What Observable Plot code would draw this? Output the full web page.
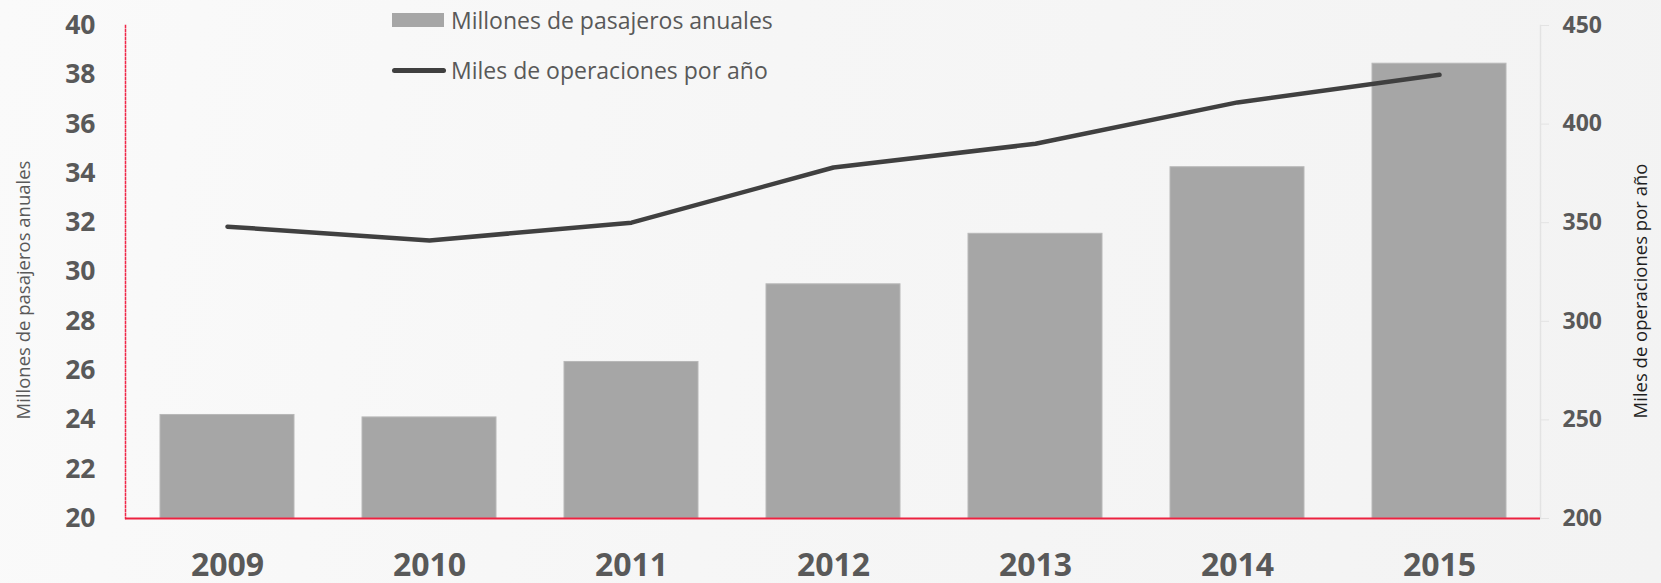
<!DOCTYPE html>
<html>
<head>
<meta charset="utf-8">
<script src="https://cdn.jsdelivr.net/npm/d3@7"></script>
<script src="https://cdn.jsdelivr.net/npm/@observablehq/plot@0.6"></script>
<style>
  html, body { margin: 0; padding: 0; }
  body { width: 1661px; height: 583px; overflow: hidden; font-family: "Open Sans", sans-serif; }
  #wrap { position: relative; width: 1661px; height: 583px;
    background: linear-gradient(100deg, #fafafa 0%, #f6f6f6 45%, #f3f3f3 100%); }
  #chart svg { display: block; background: transparent; }
  .leg { position: absolute; left: 392px; font-size: 23px; color: #595959; display: flex; align-items: center; white-space: nowrap; }
  .sw-bar { width: 52px; height: 14px; background: #a6a6a6; margin-right: 7px; }
  .sw-line { width: 54px; height: 5px; border-radius: 3px; background: #404040; margin-right: 5px; }
  .ytitle { position: absolute; font-size: 18.5px; white-space: nowrap; transform: translate(-50%, -50%) rotate(-90deg); }
</style>
</head>
<body>
<div id="wrap">
  <div id="chart"></div>
  <div class="leg" style="top:4px;"><div class="sw-bar"></div><span>Millones de pasajeros anuales</span></div>
  <div class="leg" style="top:54px;"><div class="sw-line"></div><span>Miles de operaciones por año</span></div>
  <div class="ytitle" style="left:22px; top:290px; color:#595959;">Millones de pasajeros anuales</div>
  <div class="ytitle" style="left:1639px; top:291px; color:#1f1f1f;">Miles de operaciones por año</div>
</div>
<script>
// Data
const years = ["2009", "2010", "2011", "2012", "2013", "2014", "2015"];
const passengers = [24.2, 24.1, 26.35, 29.5, 31.55, 34.25, 38.45]; // millones
const operations = [348, 341, 350, 378, 390, 411, 425];             // miles
const leftTicks = [20, 22, 24, 26, 28, 30, 32, 34, 36, 38, 40];
const rightTicks = [200, 250, 300, 350, 400, 450];
const leftDomain = [20, 40];
const rightDomain = [200, 450];

const rows = years.map((y, i) => ({year: y, pax: passengers[i], ops: operations[i]}));

// map secondary (right) axis values onto the primary y scale
const toLeft = v => leftDomain[0] + (v - rightDomain[0]) / (rightDomain[1] - rightDomain[0]) * (leftDomain[1] - leftDomain[0]);
const fromLeft = v => Math.round(rightDomain[0] + (v - leftDomain[0]) / (leftDomain[1] - leftDomain[0]) * (rightDomain[1] - rightDomain[0]));

const tickColor = "#595959";

const chart = Plot.plot({
  width: 1661,
  height: 583,
  marginLeft: 125,
  marginRight: 121,
  marginTop: 25,
  marginBottom: 65,
  style: {fontFamily: "'Open Sans', sans-serif", background: "transparent", overflow: "visible"},
  x: {type: "band", domain: years, paddingInner: 0.337, paddingOuter: 0.1685},
  y: {domain: leftDomain},
  marks: [
    Plot.barY(rows, {x: "year", y1: leftDomain[0], y2: "pax", fill: "#a6a6a6", stroke: "#b8b8b8", strokeWidth: 1}),
    Plot.frame({anchor: "left", stroke: "#f0284a", strokeDasharray: "2,2", strokeWidth: 1.5}),
    Plot.frame({anchor: "right", stroke: "#e3e3e3", strokeWidth: 1.5}),
    Plot.ruleY([leftDomain[0]], {stroke: "#ec2240", strokeWidth: 2}),
    Plot.line(rows, {x: "year", y: d => toLeft(d.ops), stroke: "#404040", strokeWidth: 4.5, strokeLinecap: "round", strokeLinejoin: "round"}),
    Plot.axisY(leftTicks, {anchor: "left", tickSize: 0, tickPadding: 30, fontSize: 26.5, fontWeight: "bold", color: tickColor, label: null}),
    Plot.axisY(rightTicks.map(toLeft), {anchor: "right", tickSize: 8, tickPadding: 14, stroke: "#e3e3e3", fontSize: 23, fontWeight: "bold", fill: tickColor, tickFormat: d => String(fromLeft(d)), label: null}),
    Plot.axisX({anchor: "bottom", tickSize: 0, tickPadding: 35, fontSize: 32, fontWeight: "bold", color: tickColor, label: null})
  ]
});
document.getElementById("chart").appendChild(chart);
</script>
</body>
</html>
